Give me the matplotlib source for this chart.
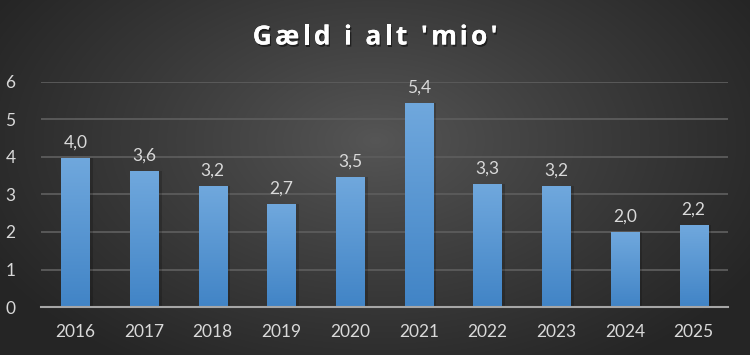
import numpy as np
import matplotlib
matplotlib.use("Agg")
import matplotlib.pyplot as plt
from matplotlib.colors import LinearSegmentedColormap
import matplotlib.patheffects as pe

years = ["2016", "2017", "2018", "2019", "2020", "2021", "2022", "2023", "2024", "2025"]
values = [3.98, 3.62, 3.22, 2.74, 3.46, 5.44, 3.28, 3.22, 1.99, 2.18]
yticks = [0, 1, 2, 3, 4, 5, 6]
title = "Gæld i alt 'mio'"

plt.rcParams['font.family'] = ['Lato', 'DejaVu Sans']

fig = plt.figure(figsize=(7.5, 3.55), dpi=100)

# radial gradient background
bg = fig.add_axes([0, 0, 1, 1], zorder=-10)
yy, xx = np.mgrid[0:355, 0:750]
cx, cy = 375, 140
r = np.sqrt(((xx - cx) / 440.0) ** 2 + ((yy - cy) / 270.0) ** 2)
r = np.clip(r, 0, 1) ** 0.9
inner = np.array([0x56, 0x56, 0x56]) / 255.0
outer = np.array([0x25, 0x25, 0x25]) / 255.0
img = inner[None, None, :] * (1 - r[..., None]) + outer[None, None, :] * r[..., None]
bg.imshow(img, aspect='auto', extent=[0, 1, 0, 1], origin='upper')
bg.set_axis_off()

ax = fig.add_axes([41 / 750, 48 / 355, 687 / 750, 225 / 355])
ax.set_facecolor('none')
x = np.arange(len(years))
width = 0.41
bars = ax.bar(x, values, width=width, color='#5b9bd5', zorder=3)

# gradient fill on bars
cmap = LinearSegmentedColormap.from_list('b', ['#4184c6', '#70a8dd'])
grad = np.linspace(0, 1, 256).reshape(-1, 1)
for b in bars:
    bx, by = b.get_x(), b.get_y()
    bw, bh = b.get_width(), b.get_height()
    # shadow
    ax.bar(bx + bw / 2 + 0.03, bh, width=bw + 0.04, bottom=0, color='black', alpha=0.18, zorder=2)
    im = ax.imshow(grad, cmap=cmap, aspect='auto', origin='lower',
                   extent=[bx, bx + bw, 0, bh], zorder=4)
    im.set_clip_path(b)
    b.set_facecolor('none')

for xi, v in zip(x, values):
    ax.text(xi, v + 0.2, f"{v:.1f}".replace('.', ','), ha='center', va='bottom',
            color='#d9d9d9', fontsize=12.5, zorder=5)

ax.set_xlim(-0.5, len(years) - 0.5)
ax.set_ylim(0, 6)
ax.set_yticks(yticks)
ax.set_yticklabels([str(t) for t in yticks])
ax.set_xticks(x)
ax.set_xticklabels(years)
ax.tick_params(axis='both', length=0, colors='#d9d9d9', labelsize=12.5)
ax.tick_params(axis='x', pad=12)
ax.tick_params(axis='y', pad=22)
for lbl in ax.get_yticklabels():
    lbl.set_horizontalalignment('center')
ax.grid(axis='y', color='#5c5c5c', linewidth=1.3, zorder=0)
ax.set_axisbelow(True)
for s in ['top', 'right', 'left']:
    ax.spines[s].set_visible(False)
ax.spines['bottom'].set_color('#a6a6a6')
ax.spines['bottom'].set_linewidth(1.5)
ax.spines['bottom'].set_zorder(6)

# letter-spaced title (each character as real text)
renderer = fig.canvas.get_renderer()
tkw = dict(color='white', fontsize=19, fontweight='bold', family=['Open Sans', 'DejaVu Sans'],
           va='center', ha='left',
           path_effects=[pe.withSimplePatchShadow(offset=(1, -1.5), shadow_rgbFace='black', alpha=0.5), pe.Normal()])
spacing = 3.3  # px
ty = 1 - 37 / 355


def adv(s):
    t = fig.text(0, 0, s, **tkw)
    w = t.get_window_extent(renderer).width
    t.remove()
    return w

full = adv(title)
widths = []
# advance of each char from cumulative prefix widths (keeps kerning-ish spacing)
prev = 0.0
for i in range(1, len(title) + 1):
    w = adv(title[:i].replace(' ', '\u00a0')) if title[i - 1] == ' ' else adv(title[:i])
    widths.append(w - prev)
    prev = w
total = sum(widths) + spacing * (len(title) - 1)
xpos = 375 - total / 2
for ch, w in zip(title, widths):
    if ch != ' ':
        fig.text(xpos / 750, ty, ch, **tkw)
    xpos += w + spacing

fig.savefig('out.png', dpi=100)
